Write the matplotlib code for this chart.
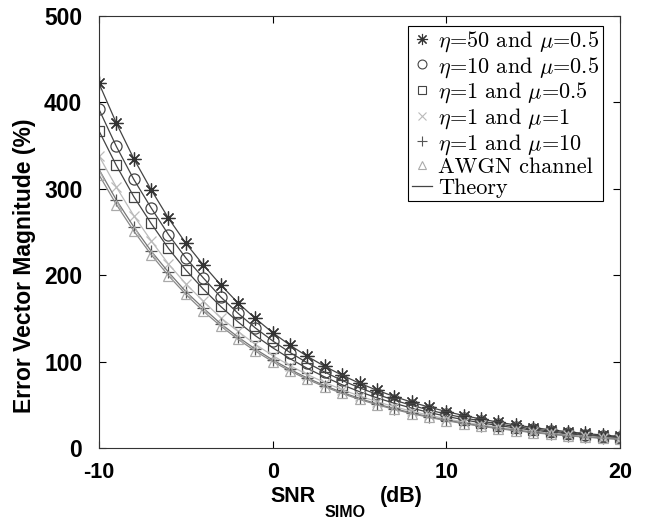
#!/usr/bin/env python3
# EVM versus SNR for the SIMO case, several (eta, mu) settings

import matplotlib
matplotlib.use('Agg')
import matplotlib.pyplot as plt

plt.rcParams['mathtext.fontset'] = 'cm'
plt.rcParams['axes.unicode_minus'] = False

snr_db = list(range(-10, 21))

evm_eta50_mu05 = [422, 376, 335, 299, 266, 237, 212, 189, 168, 150, 133.5,
                  119, 106, 94.5, 84.2, 75.0, 66.9, 59.6, 53.1, 47.4, 42.2,
                  37.6, 33.5, 29.9, 26.6, 23.7, 21.1, 18.8, 16.8, 15.0, 13.4]
evm_eta10_mu05 = [392, 349, 311, 278, 247, 220, 197, 175, 156, 139, 124,
                  110.5, 98.5, 87.8, 78.2, 69.7, 62.1, 55.4, 49.4, 44.0, 39.2,
                  35.0, 31.2, 27.8, 24.8, 22.1, 19.7, 17.5, 15.6, 13.9, 12.4]
evm_eta1_mu05 = [367, 327, 291, 260, 231, 206, 184, 164, 146, 130, 116,
                 103.4, 92.1, 82.2, 73.2, 65.2, 58.1, 51.8, 46.2, 41.2, 36.7,
                 32.7, 29.1, 26.0, 23.2, 20.6, 18.4, 16.4, 14.6, 13.0, 11.6]
evm_eta1_mu1 = [338, 302, 269, 240, 213, 190, 170, 151, 135, 120, 107,
                95.3, 85.0, 75.8, 67.5, 60.2, 53.6, 47.8, 42.6, 38.0, 33.8,
                30.1, 26.9, 23.9, 21.4, 19.0, 16.9, 15.1, 13.4, 12.0, 10.7]
evm_eta1_mu10 = [322.5, 287, 256, 228, 203.5, 181, 162, 144, 128.5, 114.5, 102,
                 90.9, 81.0, 72.2, 64.4, 57.4, 51.1, 45.6, 40.6, 36.2, 32.3,
                 28.8, 25.6, 22.9, 20.4, 18.2, 16.2, 14.4, 12.9, 11.5, 10.2]
evm_awgn = [316.2, 281.8, 251.2, 223.9, 199.5, 177.8, 158.5, 141.3, 125.9, 112.2, 100,
            89.1, 79.4, 70.8, 63.1, 56.2, 50.1, 44.7, 39.8, 35.5, 31.6,
            28.2, 25.1, 22.4, 20.0, 17.8, 15.8, 14.1, 12.6, 11.2, 10.0]

labels = [r'$\eta$=50 and $\mu$=0.5', r'$\eta$=10 and $\mu$=0.5',
          r'$\eta$=1 and $\mu$=0.5', r'$\eta$=1 and $\mu$=1',
          r'$\eta$=1 and $\mu$=10', 'AWGN channel']

fig = plt.figure(figsize=(6.46, 5.19), dpi=100)
ax = fig.add_axes([99 / 646, 71 / 519, 521 / 646, 432 / 519])

series = [
    (evm_eta50_mu05, (8, 2, 0), 10, '#333333', '#444444'),
    (evm_eta10_mu05, 'o', 8, '#444444', '#444444'),
    (evm_eta1_mu05, 's', 6.5, '#444444', '#444444'),
    (evm_eta1_mu1, 'x', 6.5, '#bbbbbb', '#bbbbbb'),
    (evm_eta1_mu10, '+', 9, '#555555', '#777777'),
    (evm_awgn, '^', 7, '#aaaaaa', '#888888'),
]

handles = []
for (vals, mk, ms, mc, lc), lab in zip(series, labels):
    ax.plot(snr_db, vals, '-', color=lc, lw=0.9)
    ax.plot(snr_db, vals, ls='none', marker=mk, ms=ms, mfc='none',
            mec=mc, mew=0.9)
    h, = ax.plot([], [], ls='none', marker=mk, ms=ms * 0.8, mfc='none',
                 mec=mc, mew=0.8, label=lab)
    handles.append(h)
th, = ax.plot([], [], '-', color='#444444', lw=0.9, label='Theory')
handles.append(th)

ax.set_xlim(-10, 20)
ax.set_ylim(0, 500)
ax.set_xticks([-10, 0, 10, 20])
ax.set_yticks([0, 100, 200, 300, 400, 500])
ax.tick_params(direction='in', top=True, right=True, length=5, width=0.8)
ax.tick_params(axis='x', pad=10, labelsize=15.5)
ax.tick_params(axis='y', pad=12, labelsize=16.5)
for t in ax.get_xticklabels() + ax.get_yticklabels():
    t.set_fontweight('bold')
    t.set_family('Liberation Sans')
for s in ax.spines.values():
    s.set_linewidth(0.8)
    s.set_color('#333333')

fig.text(25 / 646, 1 - 266 / 519, 'Error Vector Magnitude (%)', fontsize=16.5,
         fontweight='bold', family='Liberation Sans', rotation=90,
         ha='center', va='center')
fig.text(270 / 646, 1 - 502 / 519, 'SNR', fontsize=15.5, fontweight='bold',
         family='Liberation Sans', ha='left', va='baseline')
fig.text(325 / 646, 1 - 517 / 519, 'SIMO', fontsize=11.5, fontweight='bold',
         family='Liberation Sans', ha='left', va='baseline')
fig.text(380 / 646, 1 - 502 / 519, '(dB)', fontsize=15.5, fontweight='bold',
         family='Liberation Sans', ha='left', va='baseline')

leg = ax.legend(handles=handles, loc='upper right', bbox_to_anchor=(0.967, 0.977),
                prop={'family': 'cmr10', 'size': 16}, fancybox=False,
                framealpha=1, edgecolor='black', borderpad=0.15,
                labelspacing=0.05, handlelength=0.9, handletextpad=0.3,
                borderaxespad=0.0)
leg.get_frame().set_linewidth(0.8)

plt.savefig('out.png', dpi=100)
